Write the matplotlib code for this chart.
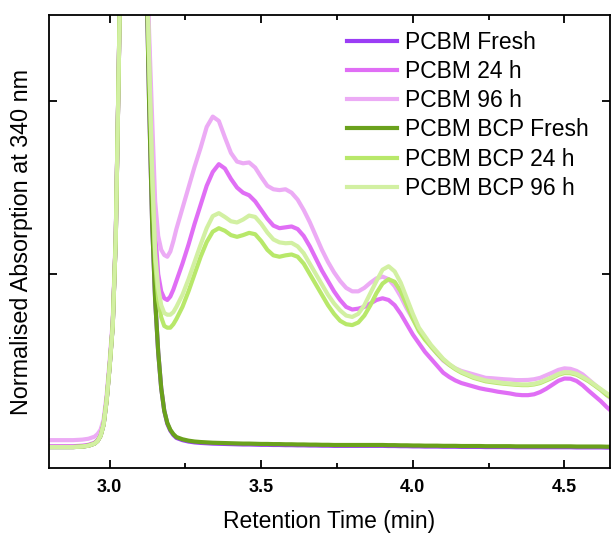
import numpy as np
import matplotlib.pyplot as plt

plt.rcParams['font.family'] = ['Liberation Sans', 'DejaVu Sans']

# retention time (min)
t = [2.80, 2.84, 2.88, 2.91, 2.93, 2.95,
     2.96, 2.97, 2.98, 2.99, 3.00, 3.01, 3.02, 3.03, 3.04, 3.05,
     3.06, 3.07, 3.08, 3.09, 3.10, 3.11, 3.12, 3.13, 3.14, 3.15,
     3.16, 3.17, 3.18, 3.19, 3.20, 3.21, 3.22,
     3.24, 3.26, 3.28, 3.30, 3.32, 3.34, 3.36, 3.38, 3.40, 3.42,
     3.44, 3.46, 3.48, 3.50, 3.52, 3.54, 3.56, 3.58, 3.60, 3.62,
     3.64, 3.66, 3.68, 3.70, 3.72, 3.74, 3.76, 3.78, 3.80, 3.82,
     3.84, 3.86, 3.88, 3.90, 3.92, 3.94, 3.96, 3.98, 4.00, 4.02,
     4.04, 4.06, 4.08, 4.10, 4.12, 4.14, 4.16, 4.18, 4.20, 4.22,
     4.24, 4.26, 4.28, 4.30, 4.32, 4.34, 4.36, 4.38, 4.40, 4.42,
     4.44, 4.46, 4.48, 4.50, 4.52, 4.54, 4.56, 4.58, 4.60, 4.62,
     4.64, 4.65]

pcbm_fresh = [0.0, 0.0, 0.0, 0.003, 0.008, 0.02,
              0.035, 0.065, 0.13, 0.27, 0.47, 0.70, 1.2, 2.2, 3.3, 4.2,
              4.8, 5.1, 5.15, 4.9, 4.4, 3.7, 2.85, 2.0, 1.3, 0.85,
              0.55, 0.34, 0.21, 0.135, 0.095, 0.07, 0.053,
              0.040, 0.032, 0.027, 0.024, 0.022, 0.020, 0.019, 0.018, 0.017, 0.016,
              0.015, 0.015, 0.014, 0.013, 0.013, 0.012, 0.012, 0.011, 0.011, 0.010,
              0.010, 0.009, 0.009, 0.008, 0.008, 0.007, 0.007, 0.007, 0.007, 0.007,
              0.007, 0.007, 0.007, 0.007, 0.006, 0.006, 0.005, 0.005, 0.004, 0.004,
              0.003, 0.003, 0.003, 0.002, 0.002, 0.002, 0.001, 0.001, 0.001, 0.001,
              0.0, 0.0, 0.0, 0.0, 0.0, -0.001, -0.001, -0.001, -0.001, -0.001,
              -0.001, -0.001, -0.001, -0.001, -0.001, -0.002, -0.002, -0.002, -0.002, -0.002,
              -0.003, -0.003]
pcbm_24h = [0.005, 0.005, 0.005, 0.008, 0.013, 0.025,
            0.04, 0.07, 0.135, 0.275, 0.475, 0.71, 1.21, 2.2, 3.3, 4.2,
            4.8, 5.1, 5.15, 4.9, 4.42, 3.75, 2.95, 2.3, 1.7, 1.25,
            1.0, 0.9, 0.86, 0.85, 0.87, 0.91, 0.96,
            1.06, 1.17, 1.29, 1.40, 1.51, 1.59, 1.635, 1.61, 1.55, 1.50,
            1.47, 1.455, 1.42, 1.37, 1.32, 1.28, 1.265, 1.27, 1.275, 1.26,
            1.22, 1.16, 1.09, 1.02, 0.96, 0.90, 0.85, 0.81, 0.795, 0.80,
            0.81, 0.83, 0.85, 0.86, 0.85, 0.82, 0.77, 0.71, 0.65, 0.60,
            0.55, 0.51, 0.47, 0.43, 0.405, 0.385, 0.37, 0.36, 0.35, 0.34,
            0.333, 0.327, 0.32, 0.315, 0.31, 0.303, 0.30, 0.30, 0.305, 0.318,
            0.337, 0.36, 0.383, 0.396, 0.395, 0.382, 0.357, 0.325, 0.295, 0.265,
            0.23, 0.215]
pcbm_96h = [0.04, 0.04, 0.04, 0.043, 0.048, 0.06,
            0.075, 0.10, 0.16, 0.30, 0.50, 0.73, 1.23, 2.2, 3.3, 4.2,
            4.8, 5.1, 5.15, 4.9, 4.45, 3.8, 3.0, 2.4, 1.9, 1.42,
            1.22, 1.14, 1.11, 1.10, 1.13, 1.19, 1.26,
            1.38, 1.50, 1.62, 1.73, 1.85, 1.91, 1.885, 1.79, 1.70, 1.65,
            1.64, 1.645, 1.615, 1.56, 1.51, 1.49, 1.485, 1.49, 1.47, 1.43,
            1.37, 1.30, 1.22, 1.14, 1.07, 1.01, 0.96, 0.92, 0.90, 0.90,
            0.92, 0.95, 0.975, 0.985, 0.97, 0.93, 0.87, 0.80, 0.74, 0.68,
            0.63, 0.58, 0.54, 0.50, 0.475, 0.455, 0.44, 0.43, 0.42, 0.41,
            0.40, 0.398, 0.395, 0.392, 0.39, 0.387, 0.387, 0.388, 0.392, 0.40,
            0.415, 0.43, 0.446, 0.455, 0.452, 0.44, 0.42, 0.39, 0.36, 0.33,
            0.30, 0.285]
bcp_fresh = [0.0, 0.0, 0.0, 0.003, 0.008, 0.02,
             0.035, 0.065, 0.13, 0.27, 0.47, 0.70, 1.2, 2.2, 3.3, 4.2,
             4.8, 5.1, 5.15, 4.9, 4.4, 3.7, 2.85, 2.0, 1.3, 0.85,
             0.55, 0.34, 0.21, 0.14, 0.10, 0.075, 0.058,
             0.045, 0.037, 0.032, 0.029, 0.027, 0.025, 0.024, 0.023, 0.022, 0.021,
             0.020, 0.020, 0.019, 0.018, 0.018, 0.017, 0.017, 0.016, 0.016, 0.015,
             0.015, 0.014, 0.014, 0.013, 0.013, 0.012, 0.012, 0.012, 0.012, 0.012,
             0.012, 0.012, 0.012, 0.012, 0.011, 0.011, 0.010, 0.010, 0.009, 0.009,
             0.008, 0.008, 0.008, 0.007, 0.007, 0.007, 0.006, 0.006, 0.006, 0.006,
             0.005, 0.005, 0.005, 0.005, 0.005, 0.004, 0.004, 0.004, 0.004, 0.004,
             0.004, 0.004, 0.004, 0.004, 0.004, 0.003, 0.003, 0.003, 0.003, 0.003,
             0.002, 0.002]
bcp_24h = [0.0, 0.0, 0.0, 0.003, 0.008, 0.02,
           0.035, 0.065, 0.13, 0.27, 0.47, 0.70, 1.2, 2.2, 3.3, 4.2,
           4.8, 5.1, 5.15, 4.9, 4.42, 3.75, 2.9, 2.2, 1.55, 1.07,
           0.85, 0.75, 0.70, 0.69, 0.69, 0.71, 0.74,
           0.81, 0.90, 1.00, 1.10, 1.185, 1.245, 1.265, 1.25, 1.225, 1.215,
           1.225, 1.238, 1.23, 1.19, 1.14, 1.108, 1.10, 1.108, 1.113, 1.10,
           1.06, 1.00, 0.94, 0.88, 0.82, 0.77, 0.73, 0.71, 0.705, 0.72,
           0.76, 0.82, 0.89, 0.945, 0.97, 0.955, 0.90, 0.82, 0.74, 0.67,
           0.62, 0.58, 0.54, 0.505, 0.475, 0.45, 0.43, 0.415, 0.40, 0.39,
           0.38, 0.375, 0.37, 0.366, 0.363, 0.36, 0.358, 0.358, 0.362, 0.37,
           0.385, 0.40, 0.418, 0.428, 0.427, 0.418, 0.40, 0.38, 0.355, 0.33,
           0.30, 0.29]
bcp_96h = [0.0, 0.0, 0.0, 0.003, 0.008, 0.02,
           0.035, 0.065, 0.13, 0.27, 0.47, 0.70, 1.2, 2.2, 3.3, 4.2,
           4.8, 5.1, 5.15, 4.9, 4.42, 3.75, 2.92, 2.25, 1.6, 1.12,
           0.92, 0.82, 0.775, 0.765, 0.765, 0.78, 0.81,
           0.88, 0.97, 1.07, 1.17, 1.265, 1.335, 1.352, 1.33, 1.305, 1.298,
           1.315, 1.338, 1.33, 1.29, 1.24, 1.20, 1.183, 1.178, 1.18, 1.16,
           1.12, 1.06, 1.00, 0.94, 0.88, 0.83, 0.79, 0.76, 0.752, 0.77,
           0.82, 0.89, 0.96, 1.025, 1.045, 1.015, 0.95, 0.86, 0.77, 0.69,
           0.64, 0.59, 0.55, 0.51, 0.48, 0.455, 0.435, 0.42, 0.405, 0.395,
           0.385, 0.38, 0.375, 0.37, 0.367, 0.364, 0.362, 0.362, 0.366, 0.375,
           0.39, 0.405, 0.423, 0.433, 0.432, 0.423, 0.405, 0.385, 0.36, 0.335,
           0.31, 0.30]

labels = ['PCBM Fresh', 'PCBM 24 h', 'PCBM 96 h',
          'PCBM BCP Fresh', 'PCBM BCP 24 h', 'PCBM BCP 96 h']
colors = ['#9B3DF5', '#E06EF5', '#ECABF5', '#6AA11C', '#B8E86A', '#D2F0A2']
series = [pcbm_fresh, pcbm_24h, pcbm_96h, bcp_fresh, bcp_24h, bcp_96h]

fig = plt.figure(figsize=(6.13, 5.37), dpi=100, facecolor='#FFFFFF')
ax = fig.add_axes([0.080, 0.1285, 0.915, 0.8435])

for y, c, lab in zip(series, colors, labels):
    ax.plot(t, y, color=c, lw=3.0, label=lab, solid_joinstyle='round')

ax.set_xlim(2.8, 4.65)
ax.set_ylim(-0.121, 2.497)
ax.xaxis.set_ticks([3.0, 3.5, 4.0, 4.5])
ax.xaxis.set_ticks([3.25, 3.75, 4.25], minor=True)
ax.yaxis.set_ticks([0, 1, 2])
ax.set_yticklabels([])
ax.set_xticklabels(['3.0', '3.5', '4.0', '4.5'], fontsize=13, fontweight='bold')
ax.tick_params(which='both', direction='in', top=True, right=True, width=1.3)
ax.tick_params(which='major', length=6)
ax.tick_params(which='minor', length=3.5)
ax.tick_params(axis='x', pad=8)
for s in ax.spines.values():
    s.set_linewidth(1.3)

ax.set_xlabel('Retention Time (min)', fontsize=16.5, labelpad=10)
ax.set_ylabel('Normalised Absorption at 340 nm', fontsize=16.8, labelpad=8)

leg = ax.legend(loc='upper left', bbox_to_anchor=(0.531, 0.965), frameon=False,
                fontsize=16.5, handlelength=2.2, handletextpad=0.35,
                labelspacing=0.27, borderpad=0, borderaxespad=0)

fig.savefig('out.png', dpi=100)
